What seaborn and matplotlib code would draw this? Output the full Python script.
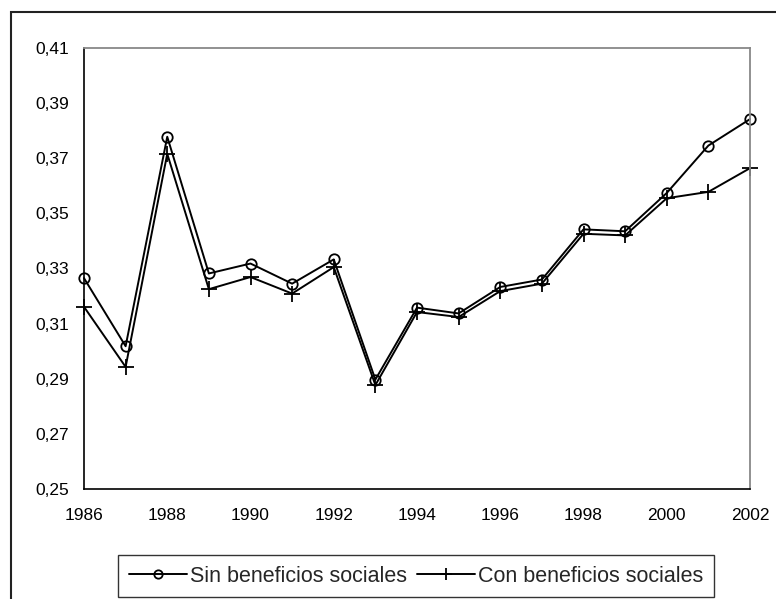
import matplotlib
matplotlib.use("Agg")
import matplotlib.pyplot as plt
import matplotlib.patches as mpatches
import seaborn as sns
import pandas as pd

years = list(range(1986, 2003))
sin_beneficios = [0.3265, 0.3018, 0.3778, 0.3282, 0.3318, 0.3245, 0.3333, 0.2897,
                  0.3158, 0.3137, 0.3233, 0.3260, 0.3442, 0.3435, 0.3574, 0.3746, 0.3842]
con_beneficios = [0.3161, 0.2943, 0.3716, 0.3225, 0.3269, 0.3209, 0.3305, 0.2877,
                  0.3142, 0.3124, 0.3218, 0.3245, 0.3426, 0.3420, 0.3555, 0.3578, 0.3664]
series_names = ["Sin beneficios sociales", "Con beneficios sociales"]
y_ticks = [0.25, 0.27, 0.29, 0.31, 0.33, 0.35, 0.37, 0.39, 0.41]
x_ticks = list(range(1986, 2003, 2))

df = pd.DataFrame({
    "Año": years * 2,
    "Gini": sin_beneficios + con_beneficios,
    "Serie": [series_names[0]] * len(years) + [series_names[1]] * len(years),
})

sns.set_style("white")
plt.rcParams["font.family"] = ["Liberation Sans", "DejaVu Sans"]

fig = plt.figure(figsize=(7.76, 5.99), dpi=100)
ax = fig.add_axes([84 / 776, 1 - 489 / 599, (750 - 84) / 776, (489 - 48) / 599])

sub = df[df["Serie"] == series_names[0]]
sns.lineplot(data=sub, x="Año", y="Gini", ax=ax, color="black", lw=1.4,
             marker="o", markersize=7.5, markerfacecolor="none",
             markeredgecolor="black", markeredgewidth=1.3,
             label=series_names[0])
sub = df[df["Serie"] == series_names[1]]
sns.lineplot(data=sub, x="Año", y="Gini", ax=ax, color="black", lw=1.4,
             marker="+", markersize=11, markeredgewidth=1.3,
             markeredgecolor="black", label=series_names[1])
for line in ax.lines:
    line.set_clip_on(False)

ax.set_xlim(1986, 2002)
ax.set_ylim(0.25, 0.41)
ax.set_xticks(x_ticks)
ax.set_yticks(y_ticks)
ax.set_yticklabels([f"{v:.2f}".replace(".", ",") for v in y_ticks])
ax.set_xlabel("")
ax.set_ylabel("")
ax.tick_params(axis="both", labelsize=12.5, colors="black", direction="out",
               length=5, width=1)
ax.tick_params(axis="x", pad=9)
ax.tick_params(axis="y", pad=6)

for side in ["left", "bottom"]:
    ax.spines[side].set_color("black")
    ax.spines[side].set_linewidth(1.2)
for side in ["top", "right"]:
    ax.spines[side].set_visible(True)
    ax.spines[side].set_color("#888888")
    ax.spines[side].set_linewidth(1.3)

leg = ax.legend(loc="center", bbox_to_anchor=(416 / 776, 1 - 576 / 599),
                bbox_transform=fig.transFigure, ncol=2, frameon=True,
                fontsize=15.5, handlelength=2.7, columnspacing=0.45,
                handletextpad=0.15, borderpad=0.5, borderaxespad=0,
                fancybox=False, markerscale=0.8)
leg.get_frame().set_edgecolor("black")
leg.get_frame().set_linewidth(1.0)

# Outer chart frame
fig.patches.append(mpatches.Rectangle((10.5 / 776, -0.05), 1.1, 1 - 12 / 599 + 0.05,
                                      transform=fig.transFigure, fill=False,
                                      edgecolor="#222222", linewidth=1.5,
                                      clip_on=False))

fig.savefig("out.png", dpi=100)
